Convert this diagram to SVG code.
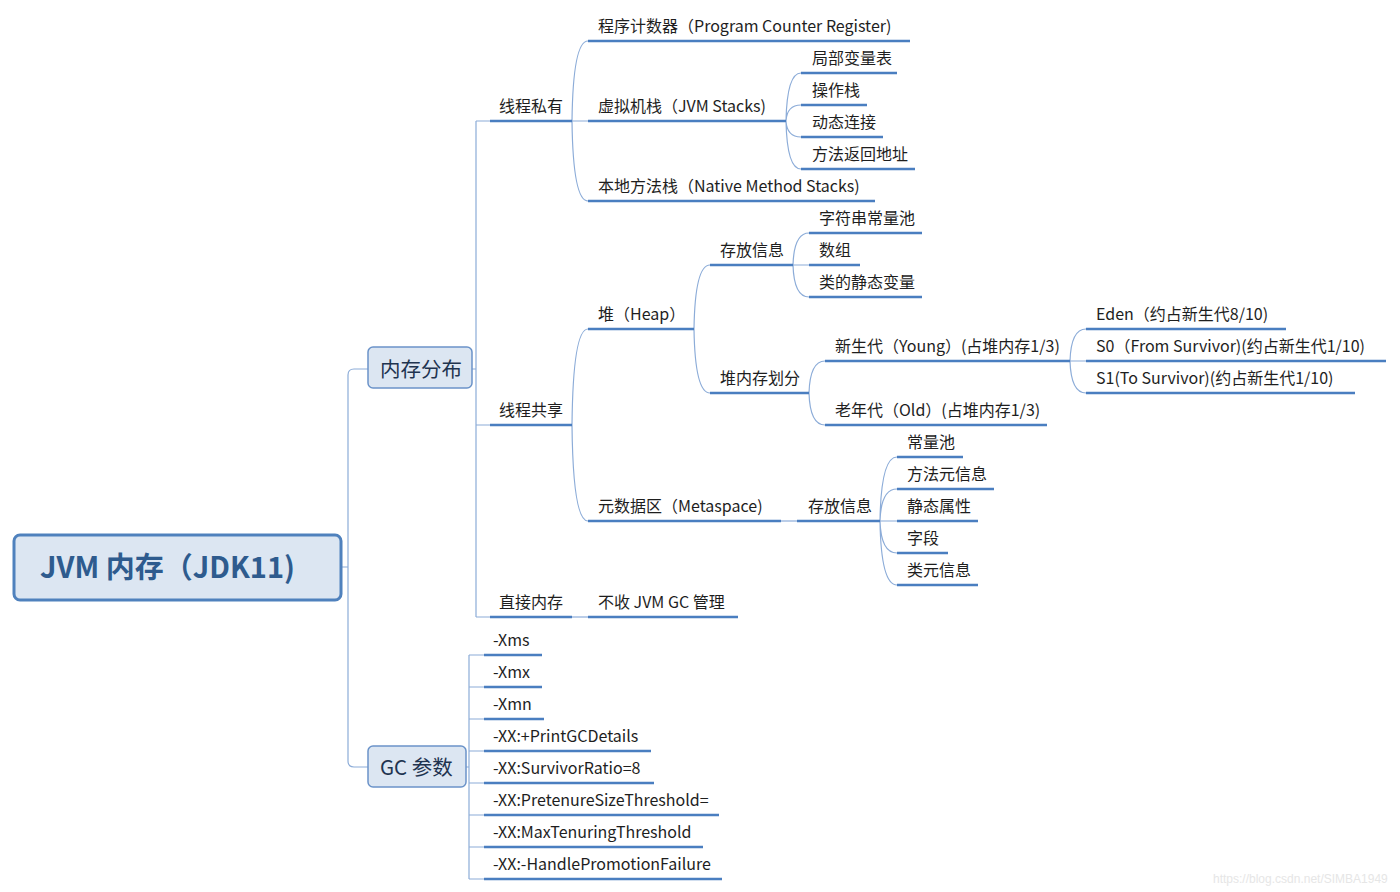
<svg xmlns="http://www.w3.org/2000/svg" width="1400" height="892" viewBox="0 0 1400 892">
<style>
text{font-family:"Noto Sans CJK SC","Microsoft YaHei",sans-serif;fill:#1e1e1e;font-size:16px}
.root{font-size:29px;font-weight:bold;fill:#2e5b8e}
.main{font-size:20.5px;fill:#1f3450}
.wm{font-family:"Liberation Sans",sans-serif;font-size:12px;fill:#e6e6e6}
.c{fill:none;stroke:#8cacd8;stroke-width:1.2}
.u{fill:none;stroke:#4a7ec0;stroke-width:2.5}
.box{fill:#dce6f2;stroke:#6b93c9;stroke-width:1.5}
.rootbox{fill:#dce6f2;stroke:#4f81bd;stroke-width:3}
</style>
<rect width="1400" height="892" fill="#ffffff"/>
<g id="connectors">
<path class="c" d="M342 567 H348 M348 375 V761 M348 375 Q348 369 354 369 H368 M348 761 Q348 767 354 767 H368"/>
<path class="c" d="M472 369 H476 M476 121 V617 M476 121 H490 M476 425 H490 M476 617 H490"/>
<path class="c" d="M572 121 Q573 41 588 41 M572 121 H588 M572 121 Q573 201 588 201"/>
<path class="c" d="M786 121 Q787 73 801 73 M786 121 Q787 105 801 105 M786 121 Q787 137 801 137 M786 121 Q787 169 801 169"/>
<path class="c" d="M572 425 Q573 329 588 329 M572 425 Q573 521 588 521"/>
<path class="c" d="M694 329 Q695 265 710 265 M694 329 Q695 393 710 393"/>
<path class="c" d="M793 265 Q794 233 809 233 M793 265 H809 M793 265 Q794 297 809 297"/>
<path class="c" d="M809 393 Q810 361 825 361 M809 393 Q810 425 825 425"/>
<path class="c" d="M1070 361 Q1071 329 1086 329 M1070 361 H1086 M1070 361 Q1071 393 1086 393"/>
<path class="c" d="M781 521 H797"/>
<path class="c" d="M880 521 Q881 457 897 457 M880 521 Q881 489 897 489 M880 521 H897 M880 521 Q881 553 897 553 M880 521 Q881 585 897 585"/>
<path class="c" d="M572 617 H588"/>
<path class="c" d="M466 767 H469 M469 655 V879 M469 655 H484 M469 687 H484 M469 719 H484 M469 751 H484 M469 783 H484 M469 815 H484 M469 847 H484 M469 879 H484"/>
</g>
<g id="root"><rect class="rootbox" x="14" y="535" width="327" height="65" rx="6"/><text class="root" x="40" y="578">JVM 内存（JDK11)</text></g>
<g id="n-mem"><rect class="box" x="368" y="347" width="104" height="41" rx="5"/><text class="main" x="380" y="377">内存分布</text></g>
<g id="n-gc"><rect class="box" x="368" y="746" width="98" height="41" rx="5"/><text class="main" x="380" y="775">GC 参数</text></g>
<g id="n-private"><path class="u" d="M490 121 H572"/><text x="499" y="112">线程私有</text></g>
<g id="n-shared"><path class="u" d="M490 425 H572"/><text x="499" y="416">线程共享</text></g>
<g id="n-direct"><path class="u" d="M490 617 H572"/><text x="499" y="608">直接内存</text></g>
<g id="n-pc"><path class="u" d="M588 41 H910"/><text x="598" y="32">程序计数器（Program Counter Register)</text></g>
<g id="n-jvms"><path class="u" d="M588 121 H786"/><text x="598" y="112">虚拟机栈（JVM Stacks)</text></g>
<g id="n-native"><path class="u" d="M588 201 H875"/><text x="598" y="192">本地方法栈（Native Method Stacks)</text></g>
<g id="n-local"><path class="u" d="M801 73 H897"/><text x="812" y="64">局部变量表</text></g>
<g id="n-op"><path class="u" d="M801 105 H867"/><text x="812" y="96">操作栈</text></g>
<g id="n-dyn"><path class="u" d="M801 137 H883"/><text x="812" y="128">动态连接</text></g>
<g id="n-ret"><path class="u" d="M801 169 H915"/><text x="812" y="160">方法返回地址</text></g>
<g id="n-heap"><path class="u" d="M588 329 H694"/><text x="598" y="320">堆（Heap）</text></g>
<g id="n-meta"><path class="u" d="M588 521 H781"/><text x="598" y="512">元数据区（Metaspace)</text></g>
<g id="n-heapinfo"><path class="u" d="M710 265 H793"/><text x="720" y="256">存放信息</text></g>
<g id="n-heapdiv"><path class="u" d="M710 393 H809"/><text x="720" y="384">堆内存划分</text></g>
<g id="n-strpool"><path class="u" d="M809 233 H922"/><text x="819" y="224">字符串常量池</text></g>
<g id="n-arr"><path class="u" d="M809 265 H860"/><text x="819" y="256">数组</text></g>
<g id="n-static"><path class="u" d="M809 297 H922"/><text x="819" y="288">类的静态变量</text></g>
<g id="n-young"><path class="u" d="M825 361 H1070"/><text x="835" y="352">新生代（Young）(占堆内存1/3)</text></g>
<g id="n-old"><path class="u" d="M825 425 H1047"/><text x="835" y="416">老年代（Old）(占堆内存1/3)</text></g>
<g id="n-eden"><path class="u" d="M1086 329 H1286"/><text x="1096" y="320">Eden（约占新生代8/10)</text></g>
<g id="n-s0"><path class="u" d="M1086 361 H1386"/><text x="1096" y="352">S0（From Survivor)(约占新生代1/10)</text></g>
<g id="n-s1"><path class="u" d="M1086 393 H1355"/><text x="1096" y="384">S1(To Survivor)(约占新生代1/10)</text></g>
<g id="n-metainfo"><path class="u" d="M797 521 H880"/><text x="808" y="512">存放信息</text></g>
<g id="n-cpool"><path class="u" d="M897 457 H963"/><text x="907" y="448">常量池</text></g>
<g id="n-minfo"><path class="u" d="M897 489 H994"/><text x="907" y="480">方法元信息</text></g>
<g id="n-sattr"><path class="u" d="M897 521 H978"/><text x="907" y="512">静态属性</text></g>
<g id="n-field"><path class="u" d="M897 553 H948"/><text x="907" y="544">字段</text></g>
<g id="n-cinfo"><path class="u" d="M897 585 H978"/><text x="907" y="576">类元信息</text></g>
<g id="n-nogc"><path class="u" d="M588 617 H738"/><text x="598" y="608">不收 JVM GC 管理</text></g>
<g id="n-xms"><path class="u" d="M484 655 H542"/><text x="493" y="646">-Xms</text></g>
<g id="n-xmx"><path class="u" d="M484 687 H542"/><text x="493" y="678">-Xmx</text></g>
<g id="n-xmn"><path class="u" d="M484 719 H544"/><text x="493" y="710">-Xmn</text></g>
<g id="n-print"><path class="u" d="M484 751 H651"/><text x="493" y="742">-XX:+PrintGCDetails</text></g>
<g id="n-surv"><path class="u" d="M484 783 H654"/><text x="493" y="774">-XX:SurvivorRatio=8</text></g>
<g id="n-pret"><path class="u" d="M484 815 H719"/><text x="493" y="806">-XX:PretenureSizeThreshold=</text></g>
<g id="n-maxt"><path class="u" d="M484 847 H703"/><text x="493" y="838">-XX:MaxTenuringThreshold</text></g>
<g id="n-handle"><path class="u" d="M484 879 H722"/><text x="493" y="870">-XX:-HandlePromotionFailure</text></g>
<text class="wm" x="1213" y="883">https://blog.csdn.net/SIMBA1949</text>
</svg>
